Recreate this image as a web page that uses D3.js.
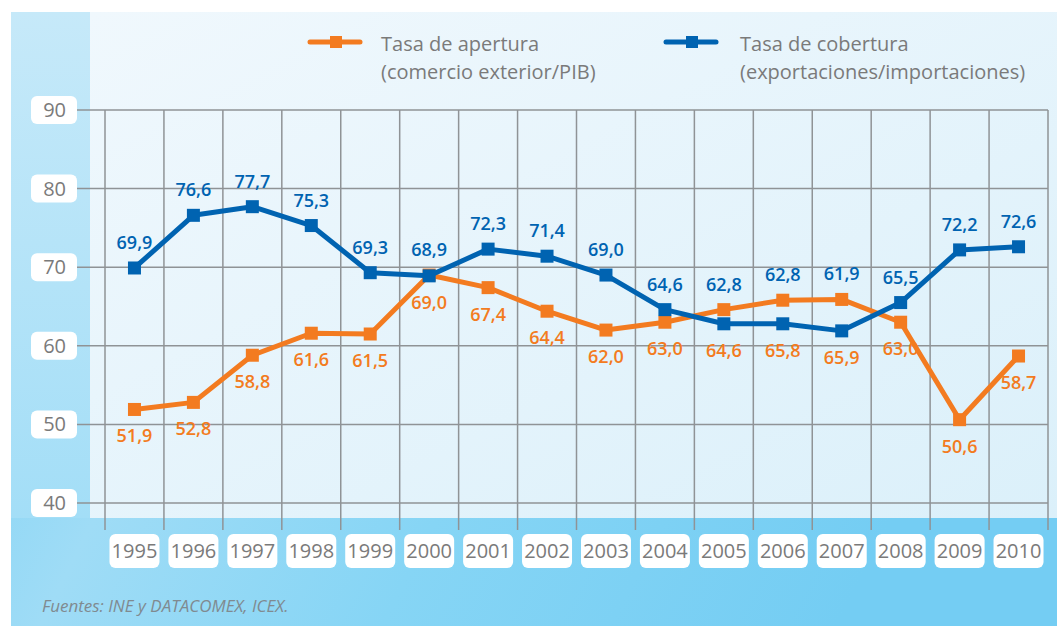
<!DOCTYPE html>
<meta charset="utf-8">
<script src="https://d3js.org/d3.v7.min.js"></script>
<style>
  body { margin: 0; background: #fff; }
  text { font-family: "Open Sans", "Noto Sans", sans-serif; }
</style>
<div id="my_dataviz"></div>
<script>

// data
var years = ["1995","1996","1997","1998","1999","2000","2001","2002","2003","2004","2005","2006","2007","2008","2009","2010"];
var apertura = [51.9, 52.8, 58.8, 61.6, 61.5, 69.0, 67.4, 64.4, 62.0, 63.0, 64.6, 65.8, 65.9, 63.0, 50.6, 58.7];
var cobertura = [69.9, 76.6, 77.7, 75.3, 69.3, 68.9, 72.3, 71.4, 69.0, 64.6, 62.8, 62.8, 61.9, 65.5, 72.2, 72.6];
var yTicks = [40, 50, 60, 70, 80, 90];
var seriesNames = [
  ["Tasa de apertura", "(comercio exterior/PIB)"],
  ["Tasa de cobertura", "(exportaciones/importaciones)"]
];
var source = "Fuentes: INE y DATACOMEX, ICEX.";

var width = 1057, height = 626;
var orange = "#f37b20", blue = "#0063b1", grey = "#7a7a7a";

var svg = d3.select("#my_dataviz").append("svg")
  .attr("width", width).attr("height", height);

// backgrounds
var defs = svg.append("defs");
var g1 = defs.append("linearGradient").attr("id", "plotbg")
  .attr("x1", "0").attr("y1", "0").attr("x2", "1").attr("y2", "1");
g1.append("stop").attr("offset", "0").attr("stop-color", "#f0f8fd");
g1.append("stop").attr("offset", "1").attr("stop-color", "#dbf0fa");
var g2 = defs.append("linearGradient").attr("id", "bandbg")
  .attr("x1", "0").attr("y1", "0").attr("x2", "1").attr("y2", "0.3");
g2.append("stop").attr("offset", "0").attr("stop-color", "#78d0f4");
g2.append("stop").attr("offset", "0.3").attr("stop-color", "#9fdcf6");
g2.append("stop").attr("offset", "0.6").attr("stop-color", "#86d5f5");
g2.append("stop").attr("offset", "1").attr("stop-color", "#74cdf3");
var g3 = defs.append("linearGradient").attr("id", "leftbg")
  .attr("x1", "0").attr("y1", "0").attr("x2", "0").attr("y2", "1");
g3.append("stop").attr("offset", "0").attr("stop-color", "#c6e9f9");
g3.append("stop").attr("offset", "1").attr("stop-color", "#a3def7");

svg.append("rect").attr("x", 11).attr("y", 12).attr("width", width - 11).attr("height", height - 12)
  .attr("fill", "url(#bandbg)");
svg.append("rect").attr("x", 11).attr("y", 12).attr("width", 79).attr("height", 506)
  .attr("fill", "url(#leftbg)");
svg.append("rect").attr("x", 90).attr("y", 12).attr("width", width - 90).attr("height", 506)
  .attr("fill", "url(#plotbg)");

// scales
var x = d3.scaleBand().domain(years).range([105, 1048]);
var y = d3.scaleLinear().domain([40, 90]).range([503, 110]);
function cx(i) { return x(years[i]) + x.bandwidth() / 2; }

// grid
svg.append("g").selectAll("line").data(yTicks).enter().append("line")
  .attr("x1", 77).attr("x2", 1048)
  .attr("y1", function(d) { return y(d); }).attr("y2", function(d) { return y(d); })
  .attr("stroke", "#8f9396").attr("stroke-width", 1.5);
var vx = years.map(function(d) { return x(d); }).concat([x.range()[1]]);
svg.append("g").selectAll("line").data(vx).enter().append("line")
  .attr("x1", function(d) { return d; }).attr("x2", function(d) { return d; })
  .attr("y1", y(90)).attr("y2", 530)
  .attr("stroke", "#8f9396").attr("stroke-width", 1.5);

// y labels
var yl = svg.append("g").selectAll("g").data(yTicks).enter().append("g")
  .attr("transform", function(d) { return "translate(0," + y(d) + ")"; });
yl.append("rect").attr("x", 31).attr("y", -14).attr("width", 46).attr("height", 28).attr("rx", 6)
  .attr("fill", "#fff");
yl.append("text").attr("x", 66).attr("y", 7).attr("text-anchor", "end")
  .attr("font-size", 20).attr("fill", grey).text(function(d) { return d; });

// x labels
var xl = svg.append("g").selectAll("g").data(years).enter().append("g")
  .attr("transform", function(d) { return "translate(" + (x(d) + x.bandwidth() / 2) + ",551)"; });
xl.append("rect").attr("x", -25).attr("y", -17).attr("width", 50).attr("height", 34).attr("rx", 6)
  .attr("fill", "#fff");
xl.append("text").attr("y", 7).attr("text-anchor", "middle")
  .attr("font-size", 20).attr("fill", grey).text(function(d) { return d; });

// lines
var line = d3.line()
  .x(function(d, i) { return cx(i); })
  .y(function(d) { return y(d); });

function drawSeries(values, color) {
  svg.append("path").datum(values)
    .attr("d", line).attr("fill", "none")
    .attr("stroke", color).attr("stroke-width", 5).attr("stroke-linejoin", "round");
  svg.append("g").selectAll("rect").data(values).enter().append("rect")
    .attr("x", function(d, i) { return cx(i) - 6.5; })
    .attr("y", function(d) { return y(d) - 6.5; })
    .attr("width", 13).attr("height", 13).attr("fill", color);
}
drawSeries(apertura, orange);
drawSeries(cobertura, blue);

// value labels: cobertura above both points, apertura below both points
function fmt(d) { return d.toFixed(1).replace(".", ","); }
svg.append("g").selectAll("text").data(cobertura).enter().append("text")
  .attr("x", function(d, i) { return cx(i); })
  .attr("y", function(d, i) { return y(Math.max(d, apertura[i])) - 19; })
  .attr("text-anchor", "middle").attr("font-size", 18).attr("font-weight", 600)
  .attr("fill", blue).text(fmt);
svg.append("g").selectAll("text").data(apertura).enter().append("text")
  .attr("x", function(d, i) { return cx(i); })
  .attr("y", function(d, i) { return y(Math.min(d, cobertura[i])) + 33; })
  .attr("text-anchor", "middle").attr("font-size", 18).attr("font-weight", 600)
  .attr("fill", orange).text(fmt);

// legend
var lg = svg.append("g").selectAll("g").data(seriesNames).enter().append("g")
  .attr("transform", function(d, i) { return "translate(" + (i === 0 ? 310 : 666) + ",42)"; });
lg.append("line").attr("x1", 0).attr("x2", 50).attr("y1", 0).attr("y2", 0)
  .attr("stroke", function(d, i) { return i === 0 ? orange : blue; })
  .attr("stroke-width", 5).attr("stroke-linecap", "round");
lg.append("rect").attr("x", 20).attr("y", -6).attr("width", 12).attr("height", 12)
  .attr("fill", function(d, i) { return i === 0 ? orange : blue; });
lg.append("text").attr("x", function(d, i) { return i === 0 ? 71 : 74; }).attr("y", 9)
  .attr("font-size", 20).attr("fill", grey).text(function(d) { return d[0]; });
lg.append("text").attr("x", function(d, i) { return i === 0 ? 71 : 74; }).attr("y", 37)
  .attr("font-size", 20).attr("fill", grey).text(function(d) { return d[1]; });

// source
svg.append("text").attr("x", 42).attr("y", 612)
  .attr("font-size", 17).attr("font-style", "italic").attr("fill", "#808a90")
  .text(source);

</script>
